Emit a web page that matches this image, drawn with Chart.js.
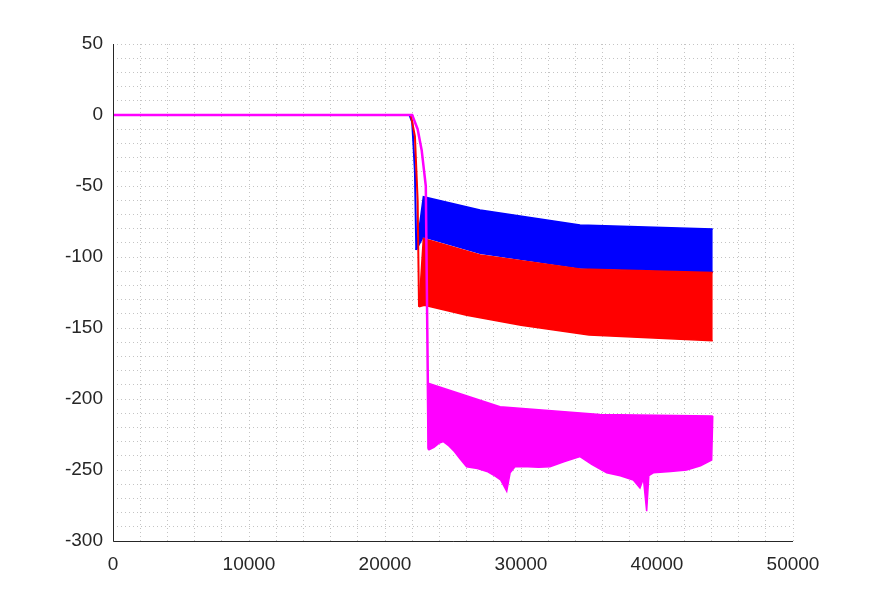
<!DOCTYPE html>
<html>
<head>
<meta charset="utf-8">
<script src="https://cdn.jsdelivr.net/npm/chart.js@4/dist/chart.umd.min.js"></script>
<style>
  html, body { margin: 0; padding: 0; background: #fff; }
  #wrap { width: 875px; height: 608px; }
</style>
</head>
<body>
<div id="wrap"><canvas id="c"></canvas></div>
<script>
// passband + transition lines (x = Hz, y = dB)
const blueLine = [[0, 0], [21800, 0], [22000, -5], [22200, -40], [22300, -95]];
const redLine = [[0, 0], [21900, 0], [22200, -15], [22400, -60], [22500, -135]];
const magentaLine = [[0, 0], [22000, 0], [22400, -10], [22700, -25], [23000, -50], [23200, -235]];

// stopband ripple envelopes
const blueTop = [[22300, -95], [22820, -57.5], [26990, -66.9], [34340, -77.5], [44100, -80.3]];
const blueBottom = [[22300, -95], [22820, -85.7], [26990, -97.3], [34340, -107.7], [44100, -110.5]];
const redTop = [[22500, -135], [22820, -87], [26990, -98.5], [34340, -108.5], [44100, -111]];
const redBottom = [[22500, -135], [22900, -134], [26000, -141], [30000, -148], [35000, -155], [44100, -159]];
const magentaTop = [[23190, -236], [23190, -189], [28460, -205.4], [35810, -211], [44100, -212]];
const magentaBottom = [[23190, -236], [23600, -234], [24000, -231], [24290, -230], [24700, -233], [25100, -237],
  [25500, -242], [26000, -247.7], [26800, -249], [27500, -251], [27970, -253.5], [28500, -257], [28950, -265],
  [29200, -252], [29560, -247.7], [30500, -247.7], [31300, -248], [32130, -247.7], [33200, -244], [34340, -240.6],
  [35200, -246], [36300, -252], [37300, -254], [38260, -257], [38750, -262.7], [39000, -256],
  [39240, -279], [39400, -254], [39730, -252], [41000, -251], [42180, -250], [43200, -247], [44020, -243], [44100, -212]];

const xTicks = [0, 10000, 20000, 30000, 40000, 50000];
const yTicks = [50, 0, -50, -100, -150, -200, -250, -300];

const pts = a => a.map(p => ({ x: p[0], y: p[1] }));

function band(top, bottom, color) {
  return [
    { data: pts(top), borderColor: color, borderWidth: 1.5, pointRadius: 0, fill: false },
    { data: pts(bottom), borderColor: color, borderWidth: 1.5, pointRadius: 0, fill: '-1', backgroundColor: color }
  ];
}

const datasets = [
  ...band(blueTop, blueBottom, '#0000ff'),
  { data: pts(blueLine), borderColor: '#0000ff', borderWidth: 2, pointRadius: 0, fill: false },
  ...band(redTop, redBottom, '#ff0000'),
  { data: pts(redLine), borderColor: '#ff0000', borderWidth: 2, pointRadius: 0, fill: false },
  ...band(magentaTop, magentaBottom, '#ff00ff'),
  { data: pts(magentaLine), borderColor: '#ff00ff', borderWidth: 2.5, pointRadius: 0, fill: false }
];
// later datasets on top
datasets.forEach((d, i) => { d.order = datasets.length - i; });

const gridStyle = { color: '#c4c4c4', lineWidth: 1, drawTicks: false };

const axisLines = {
  id: 'axisLines',
  afterDraw(chart) {
    const { ctx, chartArea: a } = chart;
    ctx.save();
    ctx.strokeStyle = '#262626';
    ctx.lineWidth = 1;
    ctx.beginPath();
    ctx.moveTo(a.left + 0.5, a.top);
    ctx.lineTo(a.left + 0.5, a.bottom + 0.5);
    ctx.lineTo(a.right, a.bottom + 0.5);
    ctx.stroke();
    ctx.restore();
  }
};

new Chart(document.getElementById('c'), {
  type: 'line',
  data: { datasets },
  plugins: [axisLines],
  options: {
    responsive: true, maintainAspectRatio: false, animation: false,
    layout: { padding: { top: 44, right: 82, left: 0, bottom: 0 } },
    plugins: { legend: { display: false }, tooltip: { enabled: false } },
    elements: { line: { tension: 0 } },
    scales: {
      x: {
        type: 'linear', min: 0, max: 50000,
        grid: gridStyle,
        border: { display: false, dash: [1, 3] },
        afterBuildTicks: ax => { ax.ticks = []; for (let v = 0; v <= 50000; v += 2000) ax.ticks.push({ value: v }); },
        afterFit: ax => { ax.height = 67; },
        ticks: {
          autoSkip: false, maxRotation: 0, padding: 12, color: '#262626',
          font: { family: 'Liberation Sans, Arial', size: 19 },
          callback: v => xTicks.includes(v) ? String(v) : ''
        }
      },
      y: {
        type: 'linear', min: -300, max: 50,
        grid: gridStyle,
        border: { display: false, dash: [1, 3] },
        afterBuildTicks: ax => { ax.ticks = []; for (let v = -300; v <= 50; v += 10) ax.ticks.push({ value: v }); },
        afterFit: ax => { ax.width = 113; },
        ticks: {
          autoSkip: false, padding: 10, color: '#262626',
          font: { family: 'Liberation Sans, Arial', size: 19 },
          callback: v => yTicks.includes(v) ? String(v) : ''
        }
      }
    }
  }
});
</script>
</body>
</html>
